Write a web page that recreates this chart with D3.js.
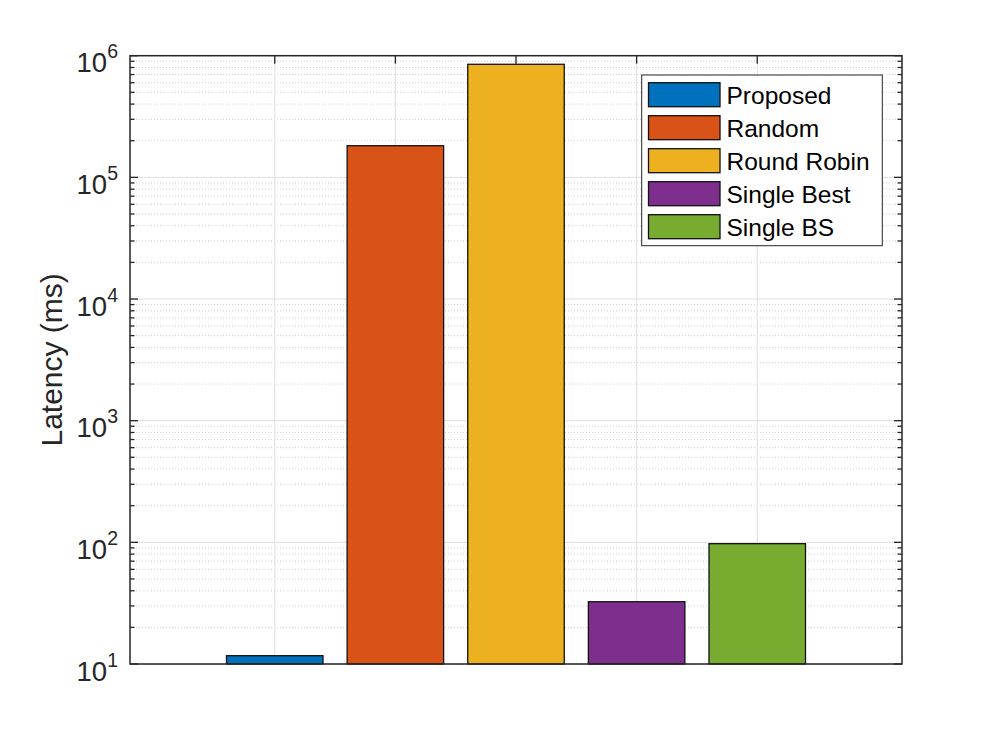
<!DOCTYPE html>
<html>
<head>
<meta charset="utf-8">
<script src="https://cdn.jsdelivr.net/npm/d3@7"></script>
<style>
  html, body { margin: 0; padding: 0; background: #fff; }
  svg { display: block; font-family: "Liberation Sans", Arial, Helvetica, sans-serif; }
</style>
</head>
<body>
<svg id="chart" width="996" height="747"></svg>
<script>
// ---- data ----
const categories = ["Proposed", "Random", "Round Robin", "Single Best", "Single BS"];
const latency = [11.7, 182000, 850000, 32.5, 97.5];
const colors = ["#0072BD", "#D95319", "#EDB120", "#7E2F8E", "#77AC30"];
const yTickExps = [1, 2, 3, 4, 5, 6];
const yLabel = "Latency (ms)";

// ---- layout ----
const svg = d3.select("#chart");
const L = 130, R = 902, T = 55.7, B = 664;
const textColor = "#262626";

const x = d3.scaleLinear().domain([-0.2, 6.2]).range([L, R]);
const y = d3.scaleLog().domain([10, 1e6]).range([B, T]);
const barW = 0.8;

// minor grid values
const minorVals = [];
for (let e = 1; e < 6; e++) for (let m = 2; m <= 9; m++) minorVals.push(m * Math.pow(10, e));

// minor grid
svg.append("g").selectAll("line").data(minorVals).join("line")
  .attr("x1", L).attr("x2", R)
  .attr("y1", d => y(d)).attr("y2", d => y(d))
  .attr("stroke", "#cfcfcf").attr("stroke-width", 1)
  .attr("stroke-dasharray", "1,2");

// major grid horizontal
svg.append("g").selectAll("line").data(yTickExps.map(e => Math.pow(10, e))).join("line")
  .attr("x1", L).attr("x2", R)
  .attr("y1", d => y(d)).attr("y2", d => y(d))
  .attr("stroke", "#dfdfdf").attr("stroke-width", 1);

// major grid vertical (at bar centers)
const xPos = categories.map((c, i) => i + 1);
svg.append("g").selectAll("line").data(xPos).join("line")
  .attr("x1", d => x(d)).attr("x2", d => x(d))
  .attr("y1", T).attr("y2", B)
  .attr("stroke", "#dfdfdf").attr("stroke-width", 1);

// x tick marks (top and bottom), beneath bars
const tickG = svg.append("g").attr("stroke", textColor).attr("stroke-width", 1.3);
xPos.forEach(p => {
  tickG.append("line").attr("x1", x(p)).attr("x2", x(p)).attr("y1", T).attr("y2", T + 8);
  tickG.append("line").attr("x1", x(p)).attr("x2", x(p)).attr("y1", B).attr("y2", B - 8);
});
// y ticks major/minor on left & right
yTickExps.forEach(e => {
  const v = y(Math.pow(10, e));
  tickG.append("line").attr("x1", L).attr("x2", L + 8).attr("y1", v).attr("y2", v);
  tickG.append("line").attr("x1", R).attr("x2", R - 8).attr("y1", v).attr("y2", v);
});
minorVals.forEach(m => {
  const v = y(m);
  tickG.append("line").attr("x1", L).attr("x2", L + 4.5).attr("y1", v).attr("y2", v);
  tickG.append("line").attr("x1", R).attr("x2", R - 4.5).attr("y1", v).attr("y2", v);
});

// bars
svg.append("g").selectAll("rect").data(latency).join("rect")
  .attr("x", (d, i) => x(i + 1 - barW / 2))
  .attr("width", x(barW) - x(0))
  .attr("y", d => y(d))
  .attr("height", d => B - y(d))
  .attr("fill", (d, i) => colors[i])
  .attr("stroke", "#111").attr("stroke-width", 1.3);

// axes box
svg.append("rect").attr("x", L).attr("y", T).attr("width", R - L).attr("height", B - T)
  .attr("fill", "none").attr("stroke", textColor).attr("stroke-width", 1.5);

// y tick labels
const yl = svg.append("g").attr("fill", textColor);
yTickExps.forEach(e => {
  const v = y(Math.pow(10, e));
  const t = yl.append("text").attr("x", 118).attr("y", v + 16.5).attr("text-anchor", "end");
  t.append("tspan").attr("font-size", 27.5).text("10");
  t.append("tspan").attr("font-size", 19.5).attr("dy", -14).text(String(e));
});

// y label
svg.append("text")
  .attr("transform", `translate(62, ${(T + B) / 2}) rotate(-90)`)
  .attr("text-anchor", "middle")
  .attr("font-size", 30)
  .attr("fill", textColor)
  .text(yLabel);

// legend
const lg = svg.append("g");
lg.append("rect").attr("x", 641.7).attr("y", 75).attr("width", 240.6).attr("height", 170.7)
  .attr("fill", "#fff").attr("stroke", textColor).attr("stroke-width", 1);
categories.forEach((c, i) => {
  const cy = 94.7 + i * 33;
  lg.append("rect").attr("x", 648.5).attr("y", cy - 12).attr("width", 71.5).attr("height", 24)
    .attr("fill", colors[i]).attr("stroke", "#111").attr("stroke-width", 1.3);
  lg.append("text").attr("x", 726.5).attr("y", cy + 9).attr("font-size", 24.5)
    .attr("fill", "#000").text(c);
});
</script>
</body>
</html>
